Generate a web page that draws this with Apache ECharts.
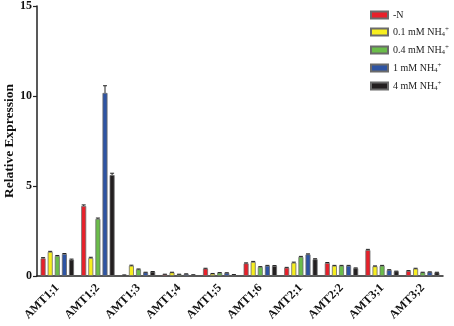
<!DOCTYPE html>
<html>
<head>
<meta charset="utf-8">
<script src="https://cdn.jsdelivr.net/npm/echarts@6/dist/echarts.min.js"></script>
<style>
  html, body { margin: 0; padding: 0; background: #fff; }
  #chart { width: 454px; height: 326px; }
</style>
</head>
<body>
<div id="chart"></div>
<script>
// genes on the x axis
const genes = ['AMT1;1', 'AMT1;2', 'AMT1;3', 'AMT1;4', 'AMT1;5', 'AMT1;6', 'AMT2;1', 'AMT2;2', 'AMT3;1', 'AMT3;2']

// treatments
const treatments = ['-N', '0.1 mM NH4+', '0.4 mM NH4+', '1 mM NH4+', '4 mM NH4+']
const colors = ['#e8202a', '#f7ee1f', '#6bbd4a', '#2e54a3', '#231f20']

// relative expression per treatment
const minusN = [0.98, 3.89, 0.05, 0.09, 0.41, 0.70, 0.46, 0.72, 1.44, 0.28]
const nh01 = [1.34, 1.00, 0.57, 0.20, 0.13, 0.78, 0.74, 0.57, 0.54, 0.41]
const nh04 = [1.11, 3.17, 0.37, 0.09, 0.18, 0.50, 1.06, 0.57, 0.57, 0.20]
const nh1 = [1.22, 10.17, 0.20, 0.11, 0.17, 0.57, 1.20, 0.57, 0.33, 0.22]
const nh4 = [0.91, 5.61, 0.24, 0.06, 0.07, 0.56, 0.93, 0.43, 0.26, 0.20]

// standard errors
const errMinusN = [0.04, 0.06, 0.01, 0.01, 0.02, 0.03, 0.02, 0.03, 0.04, 0.02]
const errNh01 = [0.03, 0.04, 0.03, 0.01, 0.01, 0.03, 0.03, 0.02, 0.02, 0.02]
const errNh04 = [0.03, 0.05, 0.02, 0.01, 0.01, 0.02, 0.03, 0.02, 0.02, 0.01]
const errNh1 = [0.03, 0.40, 0.01, 0.01, 0.01, 0.02, 0.03, 0.02, 0.02, 0.01]
const errNh4 = [0.03, 0.10, 0.01, 0.01, 0.01, 0.02, 0.03, 0.02, 0.01, 0.01]

const yTicks = [0, 5, 10, 15]
const yTitle = 'Relative Expression'

const values = [minusN, nh01, nh04, nh1, nh4]
const errors = [errMinusN, errNh01, errNh04, errNh1, errNh4]

const serif = 'Liberation Serif'

const legendRich = {
  a: { fontFamily: serif, fontSize: 10, color: '#222' },
  sub: { fontFamily: serif, fontSize: 7, color: '#222', padding: [5, 0, 0, 0] },
  sup: { fontFamily: serif, fontSize: 7, color: '#222', padding: [0, 0, 6, 0] }
}

const barSeries = treatments.map((name, i) => ({
  name,
  type: 'bar',
  data: values[i],
  barWidth: 5,
  barGap: '42%',
  itemStyle: { color: colors[i], borderColor: '#6b6b6b', borderWidth: 0.8 }
}))

// error bars drawn on top of each bar
const errorSeries = treatments.map((name, i) => ({
  type: 'custom',
  name: name,
  z: 3,
  silent: true,
  data: genes.map((g, k) => [k, values[i][k], errors[i][k]]),
  renderItem: (params, api) => {
    const k = api.value(0)
    const v = api.value(1)
    const e = api.value(2)
    const off = (i - 2) * (5 + 5 * 0.42)
    const top = api.coord([k, v + e])
    const base = api.coord([k, v])
    const x = top[0] + off
    return {
      type: 'group',
      children: [
        { type: 'line', shape: { x1: x, y1: base[1], x2: x, y2: top[1] }, style: { stroke: '#222', lineWidth: 1 } },
        { type: 'line', shape: { x1: x - 2, y1: top[1], x2: x + 2, y2: top[1] }, style: { stroke: '#222', lineWidth: 1 } }
      ]
    }
  }
}))

const myChart = echarts.init(document.getElementById('chart'))

myChart.setOption({
  animation: false,
  backgroundColor: '#fff',
  grid: { left: 37, right: 11, top: 6, bottom: 50, outerBoundsMode: 'none', containLabel: false },
  // y axis title
  graphic: [{
    type: 'text',
    x: 10,
    y: 141,
    rotation: Math.PI / 2,
    style: {
      text: yTitle,
      fontFamily: serif,
      fontWeight: 'bold',
      fontSize: 13.5,
      fill: '#111',
      align: 'center',
      verticalAlign: 'middle'
    }
  }],
  legend: {
    data: treatments.map((name) => ({ name, icon: 'rect' })),
    orient: 'vertical',
    left: 365,
    top: 5,
    itemWidth: 17,
    itemHeight: 7,
    itemGap: 5.5,
    formatter: (name) => {
      if (name === '-N') return '{a|-N}'
      const base = name.replace('NH4+', 'NH')
      return '{a|' + base + '}{sub|4}{sup|+}'
    },
    textStyle: { rich: legendRich, fontFamily: serif, fontSize: 10 }
  },
  xAxis: {
    type: 'category',
    data: genes,
    axisLine: { lineStyle: { color: '#222', width: 1.5 } },
    axisTick: { alignWithLabel: true, length: 4, lineStyle: { color: '#222', width: 1.2 } },
    axisLabel: {
      rotate: 45,
      interval: 0,
      margin: 10,
      fontFamily: serif,
      fontWeight: 'bold',
      fontSize: 12,
      color: '#111'
    }
  },
  yAxis: {
    type: 'value',
    min: 0,
    max: 15,
    interval: 5,
    axisLine: { show: true, lineStyle: { color: '#222', width: 1.5 } },
    axisTick: { show: true, length: 4, lineStyle: { color: '#222', width: 1.2 } },
    splitLine: { show: false },
    axisLabel: {
      fontFamily: serif,
      fontWeight: 'bold',
      fontSize: 12,
      color: '#111',
      margin: 5,
      formatter: (v) => (yTicks.includes(v) ? String(v) : '')
    }
  },
  series: [...barSeries, ...errorSeries]
})
</script>
</body>
</html>
